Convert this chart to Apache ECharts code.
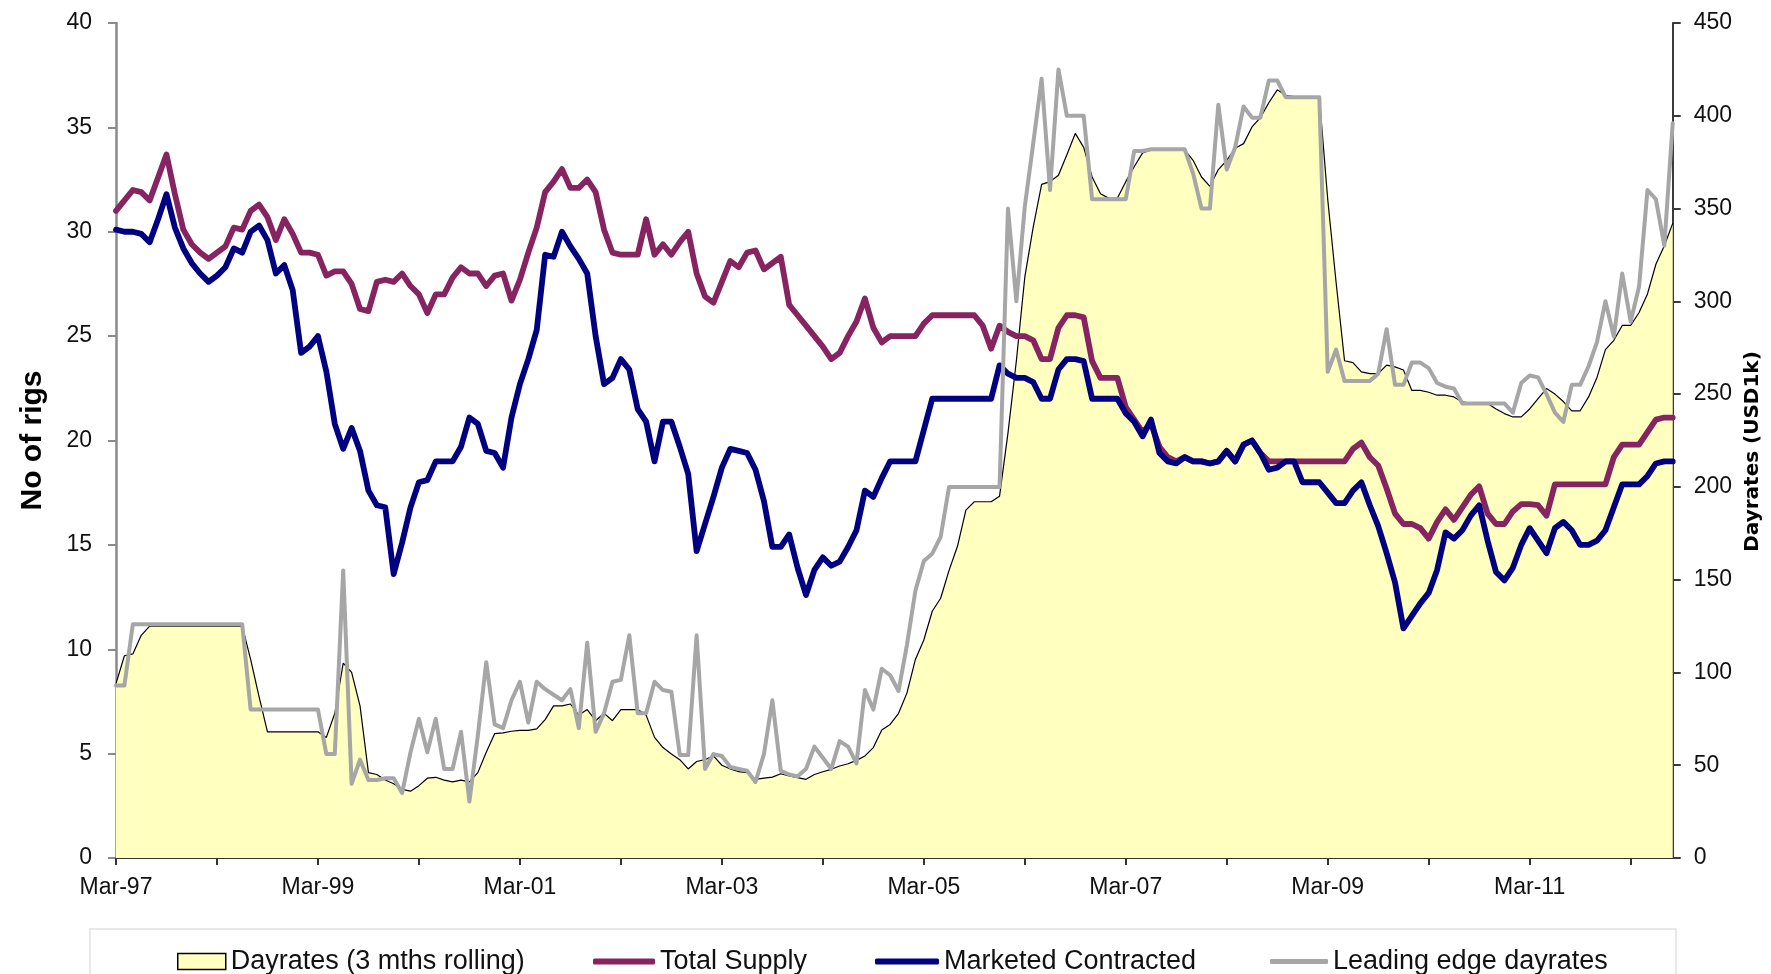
<!DOCTYPE html>
<html>
<head>
<meta charset="utf-8">
<script src="https://cdn.jsdelivr.net/npm/echarts@6/dist/echarts.min.js"></script>
<style>
  html, body { margin: 0; padding: 0; background: #ffffff; }
  #chart { width: 1771px; height: 974px; }
</style>
</head>
<body>
<div id="chart"></div>
<script>
// Monthly series, March 1997 onwards
const startYear = 1997;
const startMonth = 2; // March (0-based)
const monthNames = ['Jan', 'Feb', 'Mar', 'Apr', 'May', 'Jun', 'Jul', 'Aug', 'Sep', 'Oct', 'Nov', 'Dec'];

// Dayrates, 3 months rolling (USD1k, right axis)
const dayrates = [
  94, 109, 110, 120, 125, 125, 125, 125, 125, 125, 125, 125, 125, 125, 125, 125,
  107, 87, 68, 68, 68, 68, 68, 68, 68, 65, 78, 105, 100, 82, 46, 45,
  42, 40, 37, 36, 39, 43, 43.5, 42, 41, 42, 41, 46, 57, 67, 67.4, 68.3,
  68.8, 68.8, 69.6, 74.6, 82, 82, 83, 77, 80, 74, 78, 74, 80, 80, 80, 77,
  65, 59.5, 56, 53, 48, 52, 53, 55, 50, 48, 46.5, 46, 42.4, 43, 43.6, 45.4,
  44.2, 43.3, 42.4, 45, 46.5, 47.8, 49.6, 50.8, 52.6, 55, 59.5, 69, 72, 78, 89, 107,
  117.5, 133, 140, 155, 168, 187.5, 192, 192, 192, 195, 229, 268, 313, 340, 363, 364.5,
  368, 379, 390.5, 383, 367, 358, 355.5, 355.5, 364.5, 372.5, 380, 381.6, 381.6, 381.6, 381.6, 381.6,
  376, 367, 362, 371, 376, 382.5, 385, 394, 399, 407, 414, 411, 410.4, 410.4, 410.4, 410.4,
  355, 310, 268, 267, 262, 261, 261, 265.6, 264.7, 263, 252, 252, 251, 249.4, 249.4, 248.5,
  245.8, 245, 245, 245, 242, 239.5, 237.7, 237.7, 242, 247.6, 253, 250, 246, 241, 241, 248.5,
  259, 274, 279, 287, 287, 294, 304, 320, 330, 342
];

// Total Supply (no of rigs, left axis)
const totalSupply = [
  31.0, 31.5, 32.0, 31.9, 31.5, 32.6, 33.7, 31.8, 30.1, 29.4, 29.0, 28.7, 29.0, 29.3, 30.2, 30.1,
  31.0, 31.3, 30.7, 29.6, 30.6, 29.9, 29.0, 29.0, 28.9, 27.9, 28.1, 28.1, 27.5, 26.3, 26.2, 27.6,
  27.7, 27.6, 28.0, 27.4, 27.0, 26.1, 27.0, 27.0, 27.8, 28.3, 28.0, 28.0, 27.4, 27.9, 28.0, 26.7,
  27.7, 29.0, 30.2, 31.9, 32.4, 33.0, 32.1, 32.1, 32.5, 31.9, 30.1, 29.0, 28.9, 28.9, 28.9, 30.6,
  28.9, 29.4, 28.9, 29.5, 30.0, 28.0, 26.9, 26.6, 27.6, 28.6, 28.3, 29.0, 29.1, 28.2, 28.5, 28.8,
  26.5, 26.0, 25.5, 25.0, 24.5, 23.9, 24.2, 25.0, 25.7, 26.8, 25.4, 24.7, 25.0, 25.0, 25.0, 25.0,
  25.6, 26.0, 26.0, 26.0, 26.0, 26.0, 26.0, 25.5, 24.4, 25.5, 25.2, 25.0, 25.0, 24.8, 23.9, 23.9,
  25.4, 26.0, 26.0, 25.9, 23.8, 23.0, 23.0, 23.0, 21.6, 21.0, 20.4, 20.8, 19.7, 19.2, 19.0, 19.2,
  19.0, 19.0, 18.9, 19.0, 19.5, 19.0, 19.8, 20.0, 19.4, 19.0, 19.0, 19.0, 19.0, 19.0, 19.0, 19.0,
  19.0, 19.0, 19.0, 19.6, 19.9, 19.2, 18.8, 17.7, 16.5, 16.0, 16.0, 15.8, 15.3, 16.1, 16.7, 16.2,
  16.8, 17.4, 17.8, 16.5, 16.0, 16.0, 16.6, 16.95, 16.95, 16.9, 16.4, 17.9, 17.9, 17.9, 17.9, 17.9,
  17.9, 17.9, 19.2, 19.8, 19.8, 19.8, 20.4, 21.0, 21.1, 21.1
];

// Marketed Contracted (no of rigs, left axis)
const marketedContracted = [
  30.1, 30.0, 30.0, 29.9, 29.5, 30.6, 31.8, 30.2, 29.2, 28.5, 28.0, 27.6, 27.9, 28.3, 29.2, 29.0,
  30.0, 30.3, 29.6, 28.0, 28.4, 27.2, 24.2, 24.5, 25.0, 23.3, 20.8, 19.6, 20.6, 19.5, 17.6, 16.9,
  16.8, 13.6, 15.1, 16.8, 18.0, 18.1, 19.0, 19.0, 19.0, 19.7, 21.1, 20.8, 19.5, 19.4, 18.7, 21.1,
  22.7, 23.9, 25.3, 28.9, 28.8, 30.0, 29.3, 28.7, 28.0, 25.0, 22.7, 23.0, 23.9, 23.4, 21.5, 20.9,
  19.0, 20.9, 20.9, 19.7, 18.4, 14.7, 16.0, 17.3, 18.7, 19.6, 19.5, 19.4, 18.6, 17.1, 14.9, 14.9,
  15.5, 13.9, 12.6, 13.8, 14.4, 14.0, 14.2, 14.9, 15.7, 17.6, 17.3, 18.2, 19.0, 19.0, 19.0, 19.0,
  20.5, 22.0, 22.0, 22.0, 22.0, 22.0, 22.0, 22.0, 22.0, 23.6, 23.2, 23.0, 23.0, 22.8, 22.0, 22.0,
  23.4, 23.9, 23.9, 23.8, 22.0, 22.0, 22.0, 22.0, 21.3, 20.9, 20.2, 21.0, 19.4, 19.0, 18.9, 19.2,
  19.0, 19.0, 18.9, 19.0, 19.5, 19.0, 19.8, 20.0, 19.4, 18.6, 18.7, 19.0, 19.0, 18.0, 18.0, 18.0,
  17.5, 17.0, 17.0, 17.6, 18.0, 16.9, 15.9, 14.6, 13.2, 11.0, 11.6, 12.2, 12.7, 13.8, 15.6, 15.3,
  15.7, 16.4, 16.9, 15.2, 13.7, 13.3, 13.9, 15.0, 15.8, 15.2, 14.6, 15.8, 16.1, 15.7, 15.0, 15.0,
  15.2, 15.7, 16.8, 17.9, 17.9, 17.9, 18.3, 18.9, 19.0, 19.0
];

// Leading edge dayrates (USD1k, right axis)
const leadingEdge = [
  93, 93, 126, 126, 126, 126, 126, 126, 126, 126, 126, 126, 126, 126, 126, 126,
  80, 80, 80, 80, 80, 80, 80, 80, 80, 56, 56, 155, 40, 53, 42, 42,
  43, 43, 35, 57, 75, 57, 75, 48, 48, 68, 30.5, 66, 105.5, 72, 70, 85,
  95, 73, 95, 91, 88, 85, 91, 70, 116, 68, 78, 95, 96, 120, 78, 78,
  95, 90.5, 89.6, 55.5, 55.5, 120, 48, 56, 55, 49, 48, 47, 41, 56, 85, 47,
  45, 44, 48, 60, 54, 48, 63, 60, 51, 90.5, 80, 102, 98.5, 90, 115, 144,
  160, 164, 173, 200, 200, 200, 200, 200, 200, 200, 350, 300, 351, 385, 420, 360,
  425, 400, 400, 400, 355, 355, 355, 355, 355, 381, 381, 382, 382, 382, 382, 382,
  369, 350, 350, 406, 371, 383, 405, 399, 399, 419, 419, 410, 410, 410, 410, 410,
  262, 274, 257, 257, 257, 257, 261, 285, 255, 255, 267, 267, 264, 256, 254, 253,
  245, 245, 245, 245, 245, 245, 240, 256, 260, 259, 250, 240, 235, 255, 255, 265,
  278, 300, 281, 315, 289, 308, 360, 355, 330, 396
];

const leftTicks = ['0', '5', '10', '15', '20', '25', '30', '35', '40'];
const rightTicks = ['0', '50', '100', '150', '200', '250', '300', '350', '400', '450'];

// Month labels such as "Mar-97"
const categories = dayrates.map(function (_, i) {
  const m = startMonth + i;
  const year = startYear + Math.floor(m / 12);
  return monthNames[m % 12] + '-' + String(year % 100).padStart(2, '0');
});

const FONT = '"Liberation Sans", Arial, sans-serif';
const tickText = { fontFamily: FONT, fontSize: 23, color: '#111111' };
const legendText = { fontFamily: FONT, fontSize: 27, color: '#111111' };

const chart = echarts.init(document.getElementById('chart'), null, { renderer: 'canvas' });

chart.setOption({
  animation: false,
  backgroundColor: '#ffffff',
  grid: { left: 116, right: 95, top: 23, bottom: 116, containLabel: false },
  graphic: [{
    type: 'rect',
    shape: { x: 90, y: 929, width: 1586, height: 80 },
    style: { fill: 'none', stroke: '#e2e2e2', lineWidth: 1.5 },
    z: -1
  }],
  legend: [
    {
      data: ['Dayrates (3 mths rolling)'], left: 172, top: 943,
      icon: 'rect', itemWidth: 48, itemHeight: 16,
      itemStyle: { color: '#FFFFC0', borderColor: '#000000', borderWidth: 1.5 },
      textStyle: legendText
    },
    {
      data: ['Total Supply'], left: 588, top: 943,
      icon: 'roundRect', itemWidth: 62, itemHeight: 6,
      itemStyle: { borderWidth: 0 }, textStyle: legendText
    },
    {
      data: ['Marketed Contracted'], left: 870, top: 943,
      icon: 'roundRect', itemWidth: 64, itemHeight: 6,
      itemStyle: { borderWidth: 0 }, textStyle: legendText
    },
    {
      data: ['Leading edge dayrates'], left: 1265, top: 943,
      icon: 'roundRect', itemWidth: 58, itemHeight: 5,
      itemStyle: { borderWidth: 0 }, textStyle: legendText
    }
  ],
  xAxis: {
    type: 'category',
    data: categories,
    boundaryGap: false,
    axisLine: { lineStyle: { color: '#333333', width: 2 } },
    axisTick: {
      show: true, length: 7,
      interval: function (index) { return index % 12 === 0; },
      lineStyle: { color: '#333333', width: 2 }
    },
    axisLabel: {
      interval: function (index) { return index % 24 === 0; },
      margin: 18,
      ...tickText
    },
    splitLine: { show: false }
  },
  yAxis: [
    {
      type: 'value', min: 0, max: 40, interval: 5, position: 'left',
      name: 'No of rigs', nameLocation: 'middle', nameRotate: 90, nameGap: 68,
      nameTextStyle: { fontFamily: FONT, fontSize: 30, fontWeight: 'bold', color: '#000000' },
      axisLine: { show: true, lineStyle: { color: '#8a8a8a', width: 2.5 } },
      axisTick: { show: true, length: 8, lineStyle: { color: '#8a8a8a', width: 2 } },
      axisLabel: {
        margin: 24, ...tickText,
        formatter: function (v) { return leftTicks[Math.round(v / 5)]; }
      },
      splitLine: { show: false }
    },
    {
      type: 'value', min: 0, max: 450, interval: 50, position: 'right',
      name: 'Dayrates (USD1k)', nameLocation: 'middle', nameRotate: 90, nameGap: 70,
      nameTextStyle: { fontFamily: '"DejaVu Sans", sans-serif', fontSize: 20, fontWeight: 'bold', color: '#000000', padding: [0, 22, 0, 0] },
      axisLine: { show: true, lineStyle: { color: '#3a3a3a', width: 2 } },
      axisTick: { show: true, length: 8, lineStyle: { color: '#3a3a3a', width: 2 } },
      axisLabel: {
        margin: 21, ...tickText,
        formatter: function (v) { return rightTicks[Math.round(v / 50)]; }
      },
      splitLine: { show: false }
    }
  ],
  series: [
    {
      name: 'Dayrates (3 mths rolling)', type: 'line', yAxisIndex: 1,
      data: dayrates, showSymbol: false, symbol: 'none',
      color: '#FFFFC0',
      lineStyle: { color: '#000000', width: 1.2 },
      areaStyle: { color: '#FFFFC0', opacity: 1 },
      z: 1
    },
    {
      name: 'Total Supply', type: 'line', yAxisIndex: 0,
      data: totalSupply, showSymbol: false, symbol: 'none',
      color: '#862461',
      lineStyle: { color: '#862461', width: 5.8, join: 'round', cap: 'round' },
      z: 2
    },
    {
      name: 'Marketed Contracted', type: 'line', yAxisIndex: 0,
      data: marketedContracted, showSymbol: false, symbol: 'none',
      color: '#000080',
      lineStyle: { color: '#000080', width: 5.8, join: 'round', cap: 'round' },
      z: 3
    },
    {
      name: 'Leading edge dayrates', type: 'line', yAxisIndex: 1,
      data: leadingEdge, showSymbol: false, symbol: 'none',
      color: '#A6A6A6',
      lineStyle: { color: '#A6A6A6', width: 4, join: 'round', cap: 'round' },
      z: 4
    }
  ]
});
</script>
</body>
</html>
